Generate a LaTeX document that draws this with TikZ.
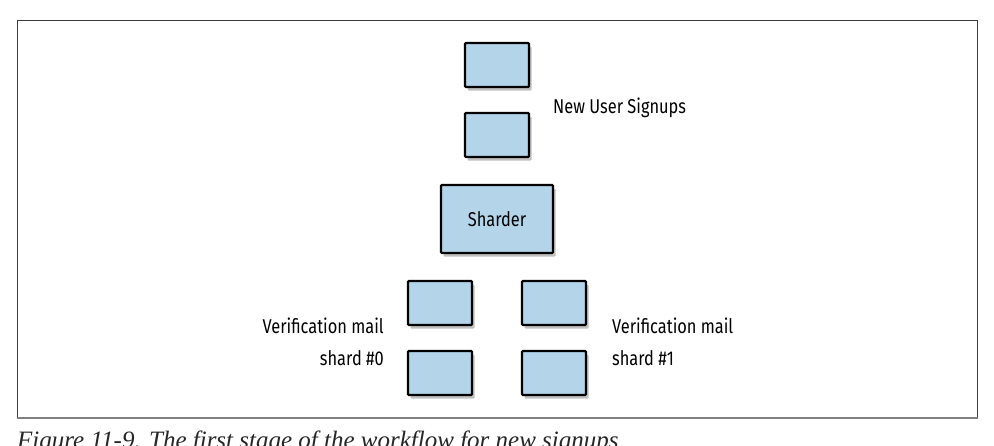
\documentclass[tikz,border=0pt]{standalone}
\usepackage{fontspec}
\setmainfont{Liberation Serif}
\newfontfamily\labelfont[FakeStretch=0.82]{Fira Sans}
\usetikzlibrary{shadows}
\definecolor{boxblue}{RGB}{180,212,234}
\definecolor{framegray}{RGB}{60,60,60}
\definecolor{framebottom}{RGB}{128,128,128}
\tikzset{
  qbox/.style={draw=black, line width=2.4pt, fill=boxblue, rounded corners=1pt,
    minimum width=64pt, minimum height=44pt, inner sep=0pt,
    drop shadow={shadow xshift=2.5pt, shadow yshift=-3.5pt, opacity=0.35, fill=black!70}},
  sharderbox/.style={qbox, minimum width=112pt, minimum height=68pt},
  lbl/.style={font=\labelfont\fontsize{20}{32}\selectfont, inner sep=0pt, text=black},
  caption/.style={font=\itshape\fontsize{25}{28}\selectfont, inner sep=0pt, text=black!85}
}
\begin{document}
\begin{tikzpicture}[x=1pt, y=-1pt]
\useasboundingbox (0,0) rectangle (994,445);
% frame
\coordinate (ftl) at (17,20);
\coordinate (fbr) at (977,418);
\draw[framegray, line width=1pt] (17,418) -- (ftl) -- (977,20) -- (fbr);
\draw[framebottom, line width=2pt] (16.5,418) -- (977.5,418);
% boxes
\node[qbox] (q1) at (497,65) {};
\node[qbox] (q2) at (497,135) {};
\node[sharderbox] (sh) at (497,219) {\labelfont\fontsize{20}{24}\selectfont Sharder};
\node[qbox] (a1) at (440,303) {};
\node[qbox] (a2) at (440,373) {};
\node[qbox] (b1) at (554,303) {};
\node[qbox] (b2) at (554,373) {};
% labels
\node[lbl, anchor=west] (lnew) at (553,108) {New User Signups};
\node[lbl, anchor=east, align=right] (lsh0) at (384,342) {Verification mail\\shard \#0};
\node[lbl, anchor=west, align=left] (lsh1) at (612,342) {Verification mail\\shard \#1};
% caption (cut off at the bottom, as in the source)
\node[caption, anchor=base west] (cap) at (17,448) {Figure 11-9. The first stage of the workflow for new signups};
\end{tikzpicture}
\end{document}
